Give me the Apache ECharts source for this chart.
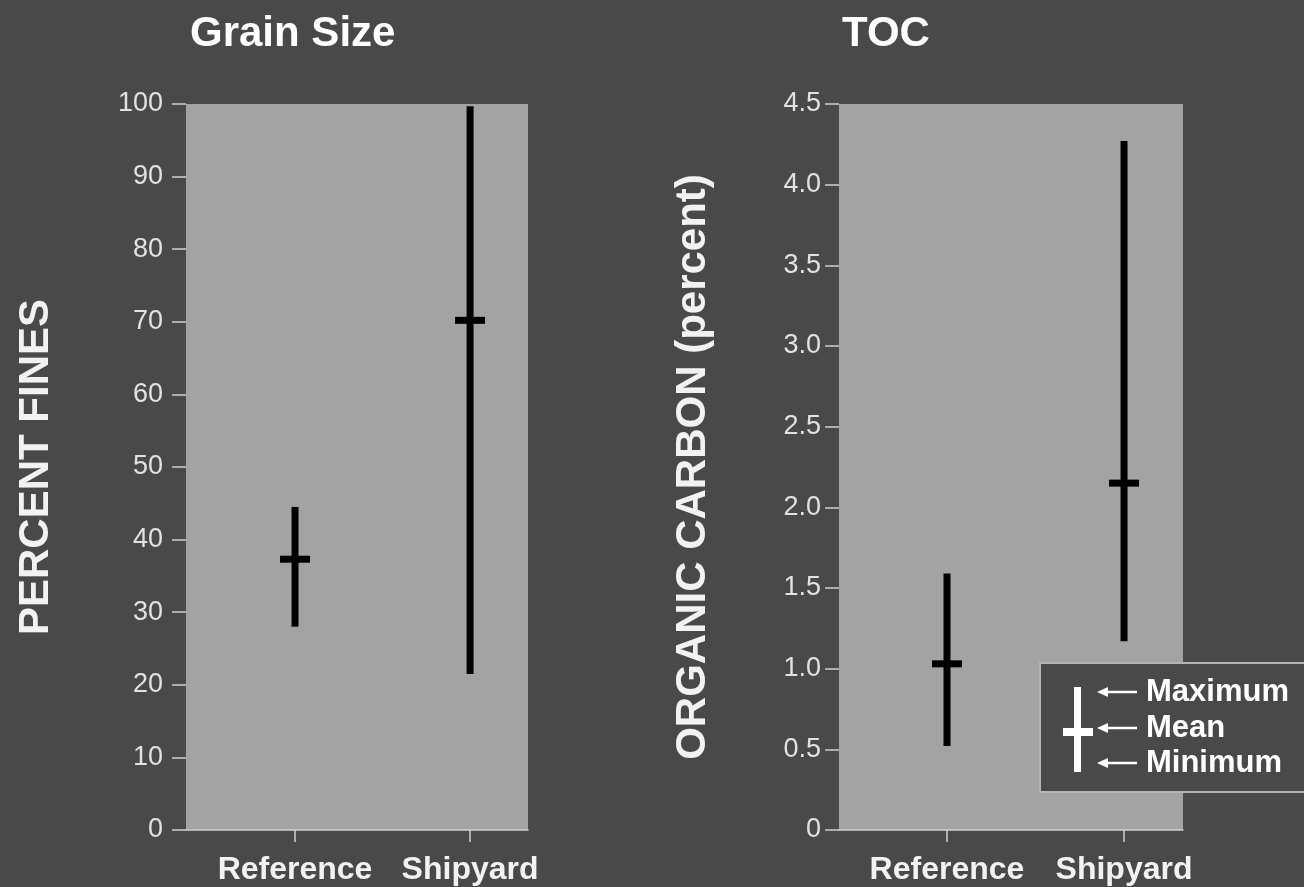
<!DOCTYPE html>
<html>
<head>
<meta charset="utf-8">
<script src="https://cdn.jsdelivr.net/npm/echarts@6/dist/echarts.min.js"></script>
<style>
  html, body { margin: 0; padding: 0; background: #494949; }
  #chart { width: 1304px; height: 887px; }
</style>
</head>
<body>
<div id="chart"></div>
<script>
// Sampling sites shown on both panels
const categories = ['Reference', 'Shipyard'];

// Grain size: percent fines (min, mean, max) per site
const grainMin = [28.0, 21.5];
const grainMean = [37.3, 70.2];
const grainMax = [44.5, 99.7];

// Total organic carbon, percent (min, mean, max) per site
const tocMin = [0.52, 1.17];
const tocMean = [1.03, 2.15];
const tocMax = [1.59, 4.27];

// Legend entries, top to bottom
const legendLabels = ['Maximum', 'Mean', 'Minimum'];

const FONT = '"Liberation Sans", Arial, Helvetica, sans-serif';
const BG = '#494949';
const PLOT = '#a3a3a3';
const AXIS = '#cfcfcf';
const TEXT = '#f2f2f2';

function rangeData(mins, means, maxs) {
  return categories.map((c, i) => [i, mins[i], means[i], maxs[i]]);
}

// Vertical bar from min to max with a short crossbar at the mean
function renderRange(params, api) {
  const x = api.value(0);
  const pMin = api.coord([x, api.value(1)]);
  const pMean = api.coord([x, api.value(2)]);
  const pMax = api.coord([x, api.value(3)]);
  const lw = 7, cw = 30, ch = 7;
  return {
    type: 'group',
    children: [
      { type: 'rect', shape: { x: pMax[0] - lw / 2, y: pMax[1], width: lw, height: pMin[1] - pMax[1] },
        style: { fill: '#000' } },
      { type: 'rect', shape: { x: pMean[0] - cw / 2, y: pMean[1] - ch / 2, width: cw, height: ch },
        style: { fill: '#000' } }
    ]
  };
}

function xAxisFor(gridIndex, min, max) {
  return {
    type: 'value', gridIndex, min, max,
    splitLine: { show: false },
    axisLine: { show: true, onZero: false, lineStyle: { color: AXIS, width: 1.5 } },
    axisTick: { show: true, length: 12, lineStyle: { color: AXIS, width: 1.5 }, customValues: [0, 1] },
    axisLabel: {
      show: true, customValues: [0, 1], margin: 24,
      formatter: v => categories[Math.round(v)] || '',
      color: TEXT, fontFamily: FONT, fontWeight: 'bold', fontSize: 32
    }
  };
}

function yAxisFor(gridIndex, max, interval, name, nameGap, labelGap, fmt) {
  return {
    type: 'value', gridIndex, min: 0, max, interval,
    name, nameLocation: 'middle', nameGap,
    nameTextStyle: { color: TEXT, fontFamily: FONT, fontWeight: 'bold', fontSize: 42 },
    splitLine: { show: false },
    axisLine: { show: false, onZero: false },
    axisTick: { show: true, length: 14, lineStyle: { color: AXIS, width: 1.5 } },
    axisLabel: { margin: labelGap, color: '#e2e2e2', fontFamily: FONT, fontSize: 27, formatter: fmt }
  };
}

const chart = echarts.init(document.getElementById('chart'), null, { renderer: 'canvas' });

const legendRows = [692, 728, 763];
const legendGraphics = [
  { type: 'rect', shape: { x: 1040, y: 663, width: 300, height: 129 },
    style: { fill: BG, stroke: '#b4b4b4', lineWidth: 2 } },
  { type: 'rect', shape: { x: 1074, y: 687, width: 7, height: 85 }, style: { fill: '#fff' } },
  { type: 'rect', shape: { x: 1063, y: 728, width: 30, height: 8 }, style: { fill: '#fff' } }
];
legendRows.forEach((y, i) => {
  legendGraphics.push(
    { type: 'line', shape: { x1: 1104, y1: y, x2: 1137, y2: y }, style: { stroke: '#fff', lineWidth: 2.5 } },
    { type: 'polygon', shape: { points: [[1097, y], [1108, y - 5], [1108, y + 5]] }, style: { fill: '#fff' } },
    { type: 'text', x: 1146, y: y, style: { text: legendLabels[i], fill: '#fff', font: 'bold 31px ' + FONT,
      textVerticalAlign: 'middle', verticalAlign: 'middle' } }
  );
});

chart.setOption({
  backgroundColor: BG,
  animation: false,
  title: [
    { text: 'Grain Size', left: 190, top: 13, padding: 0,
      textStyle: { color: '#fff', fontFamily: FONT, fontWeight: 'bold', fontSize: 42 } },
    { text: 'TOC', left: 842, top: 13, padding: 0,
      textStyle: { color: '#fff', fontFamily: FONT, fontWeight: 'bold', fontSize: 42 } }
  ],
  grid: [
    { left: 186, top: 104, width: 342, height: 726, show: true, backgroundColor: PLOT, borderWidth: 0 },
    { left: 839, top: 104, width: 344, height: 726, show: true, backgroundColor: PLOT, borderWidth: 0 }
  ],
  xAxis: [
    xAxisFor(0, -0.623, 1.331),
    xAxisFor(1, -0.610, 1.333)
  ],
  yAxis: [
    yAxisFor(0, 100, 10, 'PERCENT FINES', 129, 23, v => String(v)),
    yAxisFor(1, 4.5, 0.5, 'ORGANIC CARBON (percent)', 125, 18, v => (v === 0 ? '0' : v.toFixed(1)))
  ],
  series: [
    { type: 'custom', xAxisIndex: 0, yAxisIndex: 0, renderItem: renderRange,
      encode: { x: 0, y: [1, 2, 3] }, data: rangeData(grainMin, grainMean, grainMax) },
    { type: 'custom', xAxisIndex: 1, yAxisIndex: 1, renderItem: renderRange,
      encode: { x: 0, y: [1, 2, 3] }, data: rangeData(tocMin, tocMean, tocMax) }
  ],
  graphic: legendGraphics
});
</script>
</body>
</html>
